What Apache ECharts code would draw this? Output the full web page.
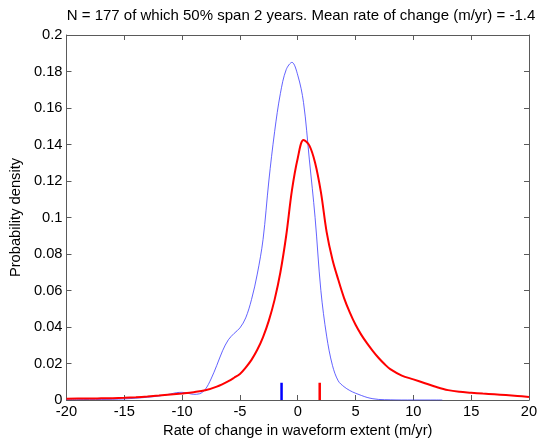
<!DOCTYPE html>
<html>
<head>
<meta charset="utf-8">
<script src="https://cdn.jsdelivr.net/npm/echarts@6/dist/echarts.min.js"></script>
<style>html,body{margin:0;padding:0;background:#fff;}#c{width:543px;height:445px;}</style>
</head>
<body>
<div id="c"></div>
<script>
const titleText = 'N = 177 of which 50% span 2 years. Mean rate of change (m/yr) = -1.4';
const xTicks = [-20, -15, -10, -5, 0, 5, 10, 15, 20];
const yTicks = [0, 0.02, 0.04, 0.06, 0.08, 0.1, 0.12, 0.14, 0.16, 0.18, 0.2];

const blueX = [-20, -19, -18, -17, -16, -15, -14, -13, -12, -11, -10.5, -10, -9.5, -9, -8.5, -8, -7.5, -7, -6.5, -6, -5.5, -5, -4.5, -4, -3.5, -3, -2.5, -2, -1.5, -1, -0.5, 0, 0.5, 1, 1.5, 2, 2.5, 3, 3.5, 4, 4.5, 5, 5.5, 6, 6.5, 7, 8, 9, 10, 11, 12, 12.5];
const blueY = [0.0002, 0.0002, 0.0003, 0.0003, 0.0004, 0.0006, 0.001, 0.0015, 0.0022, 0.0033, 0.004, 0.0042, 0.0037, 0.0031, 0.0034, 0.0058, 0.0115, 0.019, 0.027, 0.033, 0.0365, 0.0395, 0.045, 0.055, 0.069, 0.088, 0.12, 0.147, 0.168, 0.181, 0.185, 0.178, 0.163, 0.132, 0.1, 0.06, 0.035, 0.019, 0.0105, 0.0073, 0.0052, 0.0037, 0.0025, 0.0014, 0.0007, 0.0003, 0.0001, 0, 0, 0, 0, 0];

const redX = [-20, -19, -18, -17, -16, -15, -14, -13, -12, -11, -10, -9, -8, -7, -6, -5.5, -5, -4.5, -4, -3.5, -3, -2.5, -2, -1.5, -1, -0.5, 0, 0.5, 1, 1.5, 2, 2.5, 3, 3.5, 4, 4.5, 5, 5.5, 6, 6.5, 7, 7.5, 8, 9, 10, 11, 12, 13, 14, 15, 16, 17, 18, 19, 20];
const redY = [0.0007, 0.0008, 0.0008, 0.0009, 0.001, 0.0012, 0.0015, 0.0019, 0.0024, 0.003, 0.0036, 0.0043, 0.0053, 0.0073, 0.0103, 0.0122, 0.0143, 0.0178, 0.022, 0.0275, 0.0345, 0.0435, 0.055, 0.07, 0.09, 0.115, 0.1325, 0.1425, 0.1395, 0.13, 0.114, 0.092, 0.077, 0.066, 0.056, 0.048, 0.0412, 0.0357, 0.031, 0.0268, 0.023, 0.0197, 0.0169, 0.0134, 0.0113, 0.0092, 0.0071, 0.0054, 0.0045, 0.004, 0.0035, 0.0031, 0.0027, 0.0022, 0.0017];

const blueMean = -1.4;
const redMean = 1.9;
const markerHeight = 0.0095;

const zip = (xs, ys) => xs.map((x, i) => [x, ys[i]]);
const font = 'Liberation Sans, Arial, Helvetica, sans-serif';
const axisCol = '#5a5a5a';
const fs = 14.7;

const chart = echarts.init(document.getElementById('c'), null, {renderer: 'canvas'});
const baseX = {
  type: 'value', min: -20, max: 20, interval: 5,
  axisLine: {show: true, onZero: false, lineStyle: {color: axisCol, width: 1}},
  axisTick: {show: true, inside: true, length: 5, lineStyle: {color: axisCol}},
  splitLine: {show: false}
};
const baseY = {
  type: 'value', min: 0, max: 0.2, interval: 0.02,
  axisLine: {show: true, onZero: false, lineStyle: {color: axisCol, width: 1}},
  axisTick: {show: true, inside: true, length: 5, lineStyle: {color: axisCol}},
  splitLine: {show: false}
};
chart.setOption({
  animation: false,
  backgroundColor: '#fff',
  graphic: [{
    type: 'text', x: 301, y: 16,
    style: {text: titleText, fontFamily: font, fontSize: 15, fill: '#000', align: 'center', verticalAlign: 'middle'}
  }],
  grid: {left: 65, right: 14, top: 35, bottom: 45, containLabel: false},
  xAxis: [
    Object.assign({}, baseX, {
      position: 'bottom',
      name: 'Rate of change in waveform extent (m/yr)', nameLocation: 'middle', nameGap: 17,
      nameTextStyle: {fontFamily: font, fontSize: fs, color: '#000'},
      axisLabel: {show: true, margin: 4, fontFamily: font, fontSize: fs, color: '#000',
        formatter: v => xTicks.includes(v) ? String(v) : ''}
    }),
    Object.assign({}, baseX, {position: 'top', axisLabel: {show: false}})
  ],
  yAxis: [
    Object.assign({}, baseY, {
      position: 'left',
      name: 'Probability density', nameLocation: 'middle', nameGap: 40,
      nameTextStyle: {fontFamily: font, fontSize: fs, color: '#000'},
      axisLabel: {show: true, margin: 4, fontFamily: font, fontSize: fs, color: '#000',
        formatter: v => { const t = yTicks.find(k => Math.abs(k - v) < 1e-9); return t === undefined ? '' : String(+t.toFixed(2)); }}
    }),
    Object.assign({}, baseY, {position: 'right', axisLabel: {show: false}})
  ],
  series: [
    {type: 'line', data: zip(blueX, blueY), smooth: 0.35, showSymbol: false, symbol: 'none',
      lineStyle: {color: '#3b3bff', width: 0.8}, z: 3},
    {type: 'line', data: zip(redX, redY), smooth: 0.35, showSymbol: false, symbol: 'none',
      lineStyle: {color: '#ff0000', width: 2}, z: 4},
    {type: 'line', data: [[blueMean, 0], [blueMean, markerHeight]], showSymbol: false, symbol: 'none',
      lineStyle: {color: '#0000ff', width: 2.5}, z: 5},
    {type: 'line', data: [[redMean, 0], [redMean, markerHeight]], showSymbol: false, symbol: 'none',
      lineStyle: {color: '#ff0000', width: 2.5}, z: 5}
  ]
});
</script>
</body>
</html>
